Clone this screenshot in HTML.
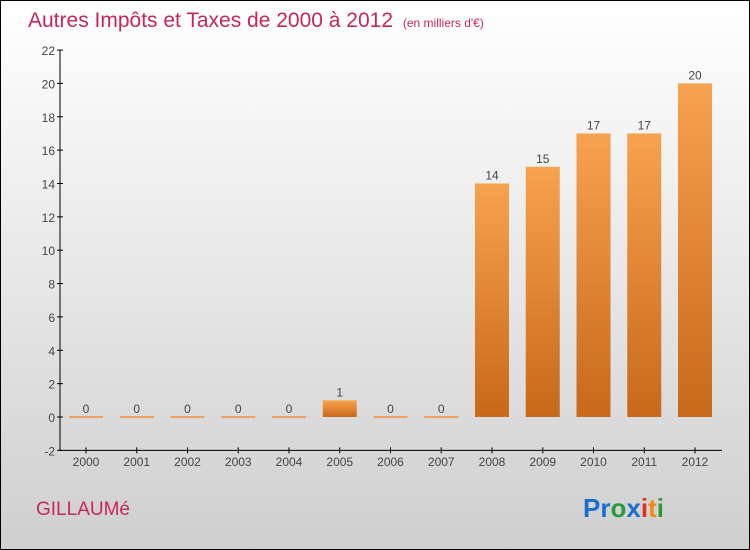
<!DOCTYPE html>
<html><head><meta charset="utf-8"><style>
body{margin:0;width:750px;height:550px;overflow:hidden}
#c{position:absolute;left:0;top:0;width:748px;height:548px;border:1px solid #000;background:linear-gradient(#fff,#cfcfcf)}
text{font-family:"Liberation Sans",sans-serif}
</style></head><body>
<div id="c">
<svg id="s" width="750" height="550" style="position:absolute;left:-1px;top:-1px">
<defs><linearGradient id="g" x1="0" y1="0" x2="0" y2="1"><stop offset="0" stop-color="#f7a24e"/><stop offset="1" stop-color="#c8681a"/></linearGradient></defs>
<text x="28" y="27" font-size="21" fill="#c8265a">Autres Impôts et Taxes de 2000 à 2012 <tspan font-size="12" dx="4">(en milliers d'€)</tspan></text>
<text x="36" y="515" font-size="19" fill="#c8265a">GILLAUMé</text>
<text x="583" y="517" font-size="26" font-weight="bold"><tspan fill="#1a6fcc">Pr</tspan><tspan fill="#2a9a3a">o</tspan><tspan fill="#1a6fcc">x</tspan><tspan fill="#e03020">i</tspan><tspan fill="#f08a10">t</tspan><tspan fill="#2a9a3a">i</tspan></text>
<g id="ax"></g><g id="bars"></g>
</svg></div>
<script>
const years=["2000","2001","2002","2003","2004","2005","2006","2007","2008","2009","2010","2011","2012"];
const values=[0,0,0,0,0,1,0,0,14,15,17,17,20];
const ticks=[-2,0,2,4,6,8,10,12,14,16,18,20,22];
const ns="http://www.w3.org/2000/svg";
const y=v=>417-v*16.68, x=i=>86+i*50.75;
function mk(t,a,p){const e=document.createElementNS(ns,t);for(const k in a)e.setAttribute(k,a[k]);p.appendChild(e);return e;}
const ax=document.getElementById('ax'),bg=document.getElementById('bars');
const yl=mk('line',{x1:60,y1:y(22),x2:60,y2:y(-2),stroke:'#000'},ax);


const xl=mk('line',{x1:60,y1:y(-2),x2:722,y2:y(-2),stroke:'#000'},ax);


ticks.forEach(t=>{mk('line',{x1:57,x2:63,y1:y(t),y2:y(t),stroke:'#000'},ax);
const tx=mk('text',{x:55,y:y(t)+5,'font-size':12,fill:'#444','text-anchor':'end'},ax);tx.textContent=t;

});
years.forEach((yr,i)=>{mk('line',{x1:x(i),x2:x(i),y1:y(-2)-3,y2:y(-2)+3,stroke:'#000'},ax);
const tx=mk('text',{x:x(i),y:466,'font-size':12,fill:'#444','text-anchor':'middle'},ax);tx.textContent=yr;


const v=values[i];const h=Math.max(y(0)-y(v),2);
const r=mk('rect',{x:x(i)-17,y:y(0)-h+(v?0:1),width:34,height:h,fill:v?'url(#g)':'#f0a060'},bg);


const l=mk('text',{x:x(i),y:y(v)-4,'font-size':12,fill:'#444','text-anchor':'middle'},bg);l.textContent=v;

});
</script>
</body></html>
